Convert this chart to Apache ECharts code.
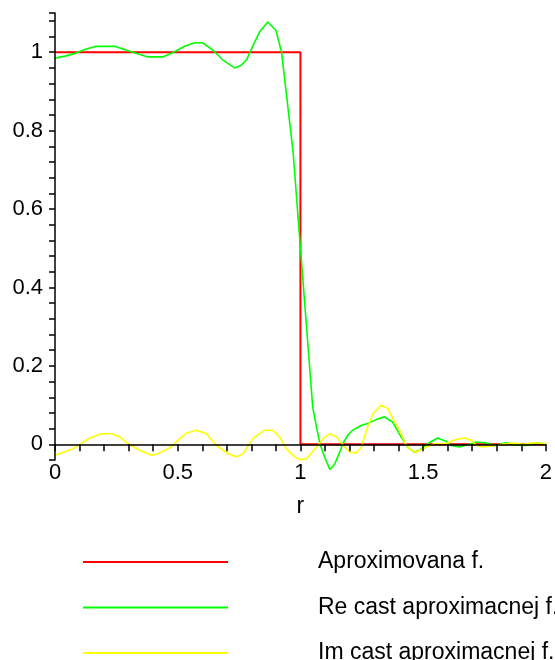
<!DOCTYPE html>
<html>
<head>
<meta charset="utf-8">
<script src="https://cdn.jsdelivr.net/npm/echarts@6/dist/echarts.min.js"></script>
<style>
  html, body { margin: 0; padding: 0; background: #ffffff; }
  #chart { width: 555px; height: 660px; }
</style>
</head>
<body>
<div id="chart"></div>
<script>
// Step function being approximated
const rExact = [0, 1, 1, 2];
const exactValues = [1, 1, 0, 0];

// Real part of the approximation
const rRe = [0.0, 0.041, 0.081, 0.121, 0.168, 0.242, 0.317, 0.378, 0.44, 0.483,
  0.528, 0.569, 0.602, 0.644, 0.684, 0.732, 0.759, 0.78, 0.809, 0.834,
  0.867, 0.9, 0.923, 0.97, 1.0, 1.025, 1.05, 1.065, 1.08, 1.1,
  1.12, 1.14, 1.16, 1.173, 1.195, 1.213, 1.247, 1.274, 1.308, 1.342,
  1.375, 1.41, 1.436, 1.464, 1.485, 1.519, 1.559, 1.593, 1.613, 1.648,
  1.682, 1.716, 1.756, 1.79, 1.838, 1.879, 1.918, 1.967, 2.0];
const reValues = [0.985, 0.99, 0.997, 1.007, 1.015, 1.015, 1.0, 0.988, 0.988, 1.0,
  1.015, 1.024, 1.024, 1.005, 0.98, 0.96, 0.967, 0.98, 1.02, 1.052,
  1.077, 1.056, 1.0, 0.746, 0.5, 0.298, 0.095, 0.045, 0.0, -0.035,
  -0.064, -0.05, -0.02, 0.002, 0.025, 0.036, 0.048, 0.053, 0.063, 0.07,
  0.057, 0.019, -0.007, -0.02, -0.015, 0.002, 0.016, 0.008, -0.003, -0.007,
  -0.001, 0.006, 0.004, -0.003, 0.004, -0.001, -0.003, 0.004, 0.0];

// Imaginary part of the approximation
const rIm = [0.0, 0.035, 0.074, 0.102, 0.142, 0.189, 0.23, 0.264, 0.297, 0.345,
  0.392, 0.419, 0.467, 0.501, 0.534, 0.577, 0.617, 0.658, 0.705, 0.739,
  0.766, 0.807, 0.854, 0.888, 0.915, 0.942, 0.976, 0.997, 1.025, 1.066,
  1.093, 1.12, 1.147, 1.174, 1.201, 1.228, 1.248, 1.269, 1.296, 1.329,
  1.356, 1.376, 1.404, 1.431, 1.451, 1.471, 1.486, 1.514, 1.548, 1.595,
  1.636, 1.669, 1.697, 1.717, 1.744, 1.784, 1.824, 1.868, 1.908, 1.947, 2.0];
const imValues = [-0.028, -0.02, -0.011, 0.0, 0.016, 0.027, 0.027, 0.019, 0.002, -0.015,
  -0.028, -0.024, -0.009, 0.01, 0.028, 0.036, 0.027, -0.003, -0.024, -0.032,
  -0.024, 0.015, 0.036, 0.036, 0.019, -0.011, -0.032, -0.039, -0.037, -0.007,
  0.015, 0.027, 0.019, -0.003, -0.02, -0.022, -0.007, 0.036, 0.078, 0.1,
  0.091, 0.066, 0.036, -0.003, -0.015, -0.02, -0.015, -0.007, 0.002, 0.002,
  0.013, 0.016, 0.01, -0.003, -0.007, -0.004, 0.0, 0.003, 0.0, 0.004, 0.002];

const seriesNames = ['Aproximovana f.', 'Re cast aproximacnej f.', 'Im cast aproximacnej f.'];
const seriesColors = ['#ff0000', '#00ff00', '#ffff00'];

const zip = (xs, ys) => xs.map((x, i) => [x, ys[i]]);

const FONT = 'Liberation Sans, Arial, Helvetica, sans-serif';
const TICK_FS = 22;
const TEXT_FS = 23;

const chart = echarts.init(document.getElementById('chart'), null, { renderer: 'canvas' });

chart.setOption({
  animation: false,
  backgroundColor: '#ffffff',
  grid: { left: 55, right: 9, top: 13, height: 447, containLabel: false },
  xAxis: {
    type: 'value',
    min: 0,
    max: 2,
    interval: 0.5,
    z: 5,
    name: 'r',
    nameLocation: 'middle',
    nameGap: 35,
    nameTextStyle: { color: '#000', fontFamily: FONT, fontSize: TEXT_FS },
    axisLine: { onZero: true, lineStyle: { color: '#000', width: 1.5 } },
    axisTick: { show: true, inside: false, length: 7, lineStyle: { color: '#000', width: 1.5 } },
    minorTick: { show: true, splitNumber: 5, length: 7, lineStyle: { color: '#000', width: 1.5 } },
    axisLabel: { color: '#000', fontFamily: FONT, fontSize: TICK_FS, margin: 2,
      formatter: v => String(v) },
    splitLine: { show: false }
  },
  yAxis: {
    type: 'value',
    min: -0.04,
    max: 1.1,
    z: 5,
    axisLine: { onZero: true, lineStyle: { color: '#000', width: 1.5 } },
    axisTick: { show: true, inside: false, length: 6, lineStyle: { color: '#000', width: 1.5 } },
    minorTick: { show: true, splitNumber: 5, length: 6, lineStyle: { color: '#000', width: 1.5 } },
    axisLabel: { color: '#000', fontFamily: FONT, fontSize: TICK_FS, margin: 12,
      showMinLabel: false, showMaxLabel: false,
      formatter: v => String(v) },
    splitLine: { show: false }
  },
  legend: {
    orient: 'vertical',
    left: 83,
    top: 549,
    height: 160,
    padding: 0,
    icon: 'rect',
    itemWidth: 145,
    itemHeight: 2,
    itemGap: 19.5,
    data: seriesNames,
    formatter: name => '{gap|}' + name,
    textStyle: {
      color: '#000', fontFamily: FONT, fontSize: TEXT_FS, lineHeight: 26,
      rich: { gap: { width: 85 } }
    }
  },
  series: [
    {
      name: seriesNames[0], type: 'line', data: zip(rExact, exactValues),
      symbol: 'none', clip: false, z: 2,
      lineStyle: { color: seriesColors[0], width: 2 }, itemStyle: { color: seriesColors[0] }
    },
    {
      name: seriesNames[1], type: 'line', data: zip(rRe, reValues),
      symbol: 'none', clip: false, z: 3,
      lineStyle: { color: seriesColors[1], width: 1.6 }, itemStyle: { color: seriesColors[1] }
    },
    {
      name: seriesNames[2], type: 'line', data: zip(rIm, imValues),
      symbol: 'none', clip: false, z: 4,
      lineStyle: { color: seriesColors[2], width: 1.6 }, itemStyle: { color: seriesColors[2] }
    }
  ]
});
</script>
</body>
</html>
